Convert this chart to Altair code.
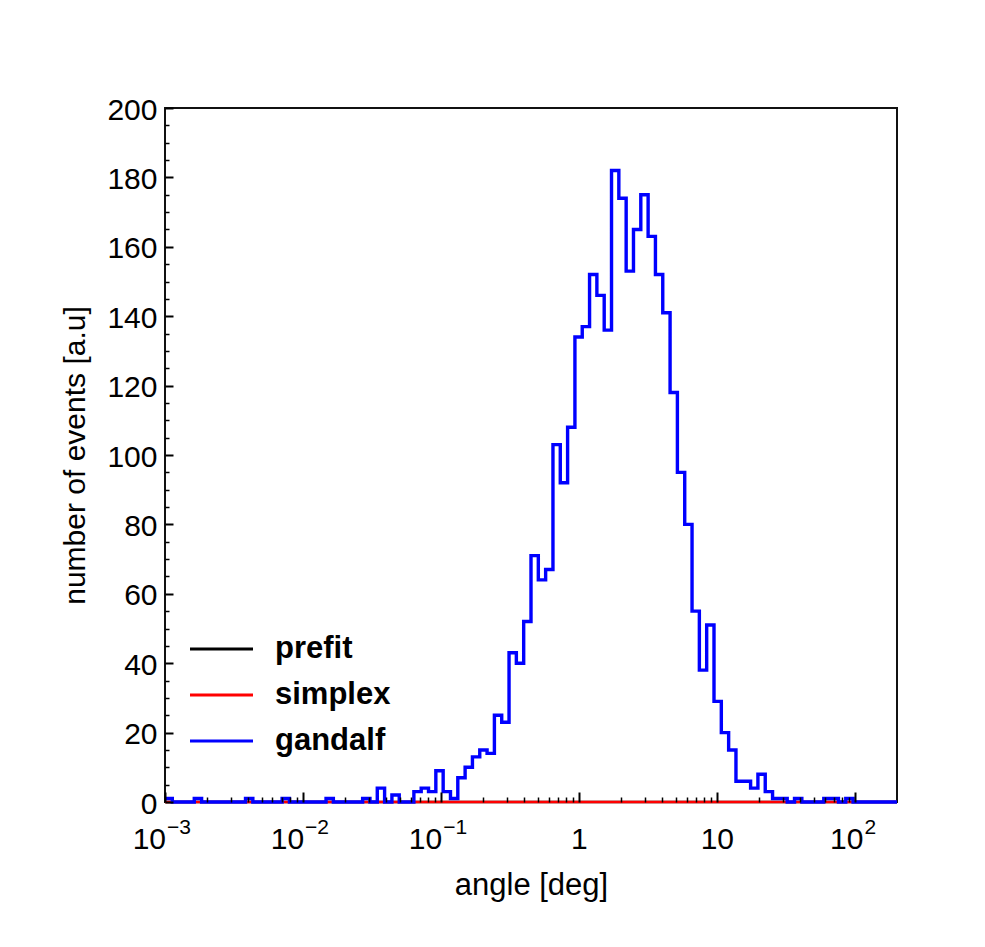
import numpy as np
import pandas as pd
import altair as alt

# ---------------- data ----------------
X_MIN, X_MAX = 0.001, 200.0
N_BINS = 100

gandalf = [1, 0, 0, 0, 1, 0, 0, 0, 0, 0,
           0, 1, 0, 0, 0, 0, 1, 0, 0, 0,
           0, 0, 1, 0, 0, 0, 0, 1, 0, 4,
           0, 2, 0, 0, 3, 4, 3, 9, 3, 1,
           7, 10, 13, 15, 14, 25, 23, 43, 40, 52,
           71, 64, 67, 103, 92, 108, 134, 137, 152, 146,
           136, 182, 174, 153, 165, 175, 163, 152, 141, 118,
           95, 80, 55, 38, 51, 29, 20, 15, 6, 6,
           4, 8, 3, 1, 1, 0, 1, 0, 0, 0,
           1, 1, 0, 1, 0, 0, 0, 0, 0, 0]
prefit = [0] * N_BINS
simplex = [0] * N_BINS

series_names = ["prefit", "simplex", "gandalf"]
series_values = [prefit, simplex, gandalf]
series_colors = ["#000000", "#ff0000", "#0000ff"]

y_major_ticks = list(range(0, 201, 20))
y_minor_ticks = [v for v in range(0, 201, 5) if v % 20 != 0]
x_major_ticks = [0.001, 0.01, 0.1, 1, 10, 100]
x_minor_ticks = [m * 10.0 ** e for e in range(-3, 3) for m in range(2, 10) if m * 10.0 ** e < X_MAX]

x_plain_vals = [1, 10]
x_plain_text = ["1", "10"]
x_neg_vals = [0.001, 0.01, 0.1]
x_neg_exp = ["\u22123", "\u22122", "\u22121"]
x_pos_vals = [100]
x_pos_exp = ["2"]

# ---------------- layout ----------------
W, H = 732, 694
FONT = "Liberation Sans"
FS = 30

edges = np.logspace(np.log10(X_MIN), np.log10(X_MAX), N_BINS + 1)


def steps(vals, name):
    rows = []
    for i, v in enumerate(vals):
        rows.append({"x": edges[i], "y": v, "k": 2 * i, "s": name})
        rows.append({"x": edges[i + 1], "y": v, "k": 2 * i + 1, "s": name})
    return pd.DataFrame(rows)


xs = alt.Scale(type="log", domain=[X_MIN, X_MAX], nice=False)
ys = alt.Scale(domain=[0, 200], nice=False, zero=True)

layers = []

# frame drawn first, so the histograms lie on top of it
layers.append(
    alt.Chart(pd.DataFrame({"f": [0]})).mark_rect(fillOpacity=0, stroke="#111", strokeWidth=2).encode(
        x=alt.value(0), x2=alt.value(W), y=alt.value(0), y2=alt.value(H)
    )
)

line_widths = [2.6, 2.6, 3.4]
for name, vals, col, lw in zip(series_names, series_values, series_colors, line_widths):
    layers.append(
        alt.Chart(steps(vals, name)).mark_line(color=col, strokeWidth=lw, strokeJoin="miter", strokeCap="butt").encode(
            x=alt.X("x:Q", scale=xs, axis=None),
            y=alt.Y("y:Q", scale=ys, axis=None),
            order="k:Q",
        )
    )

base_df = steps(gandalf, "axis")


def axis_layer(xaxis=None, yaxis=None):
    enc = {}
    enc["x"] = alt.X("x:Q", scale=xs, axis=xaxis) if xaxis is not None else alt.X("x:Q", scale=xs, axis=None)
    enc["y"] = alt.Y("y:Q", scale=ys, axis=yaxis) if yaxis is not None else alt.Y("y:Q", scale=ys, axis=None)
    return alt.Chart(base_df).mark_point(opacity=0).encode(**enc)


common_tick = dict(labels=False, domain=False, grid=False, title=None, tickColor="#000", zindex=2)

layers.append(axis_layer(xaxis=alt.Axis(orient="bottom", values=x_major_ticks, tickSize=10, offset=-10, tickWidth=2, **common_tick)))
layers.append(axis_layer(xaxis=alt.Axis(orient="bottom", values=x_minor_ticks, tickSize=5, offset=-5, tickWidth=1.5, **common_tick)))
layers.append(axis_layer(yaxis=alt.Axis(orient="left", values=y_major_ticks, tickSize=8, offset=-8, tickWidth=2, **common_tick)))
layers.append(axis_layer(yaxis=alt.Axis(orient="left", values=y_minor_ticks, tickSize=4, offset=-4, tickWidth=1.5, **common_tick)))

# y labels + title
layers.append(axis_layer(yaxis=alt.Axis(
    orient="left", values=y_major_ticks, ticks=False, domain=False, grid=False,
    labelPadding=8, labelFont=FONT, labelFontSize=FS, labelColor="#000", labelOverlap=False,
    labelBaseline="middle", labelOffset=2,
    title="number of events [a.u]", titleFont=FONT, titleFontSize=FS, titleFontWeight="normal",
    titleColor="#000", titleAngle=270, titleX=-90, titleY=H / 2, titleBaseline="middle", titleAlign="center",
)))
# x title
layers.append(axis_layer(xaxis=alt.Axis(
    orient="bottom", values=x_major_ticks, ticks=False, labels=False, domain=False, grid=False,
    title="angle [deg]", titleFont=FONT, titleFontSize=31, titleFontWeight="normal", titleColor="#000",
    titleX=W / 2, titleY=83, titleBaseline="middle", titleAlign="center",
)))

# x tick labels
layers.append(
    alt.Chart(pd.DataFrame({"v": x_plain_vals, "t": x_plain_text})).mark_text(
        font=FONT, fontSize=FS, align="center", baseline="alphabetic", color="#000"
    ).encode(x=alt.X("v:Q", scale=xs, axis=None), y=alt.value(H + 47), text="t:N")
)
for vals, exps, dbase, dexp in [(x_neg_vals, x_neg_exp, 1, 2), (x_pos_vals, x_pos_exp, 8, 9)]:
    df = pd.DataFrame({"v": vals, "b": ["10"] * len(vals), "e": exps})
    layers.append(
        alt.Chart(df).mark_text(font=FONT, fontSize=FS, align="right", baseline="alphabetic", color="#000", dx=dbase)
        .encode(x=alt.X("v:Q", scale=xs, axis=None), y=alt.value(H + 47), text="b:N")
    )
    layers.append(
        alt.Chart(df).mark_text(font=FONT, fontSize=21, align="left", baseline="alphabetic", color="#000", dx=dexp)
        .encode(x=alt.X("v:Q", scale=xs, axis=None), y=alt.value(H + 32), text="e:N")
    )

# legend (inside the frame, lower left)
for i, (name, col) in enumerate(zip(series_names, series_colors)):
    yy = 541 + 46 * i
    ldf = pd.DataFrame({"label": [name]})
    layers.append(
        alt.Chart(ldf).mark_rule(color=col, strokeWidth=3).encode(
            x=alt.value(25), x2=alt.value(88), y=alt.value(yy)
        )
    )
    layers.append(
        alt.Chart(ldf).mark_text(font=FONT, fontSize=31, fontWeight="bold", align="left", baseline="middle", color="#000")
        .encode(x=alt.value(110), y=alt.value(yy), text="label:N")
    )

chart = (
    alt.layer(*layers)
    .resolve_axis(x="independent", y="independent")
    .properties(
        width=W, height=H,
        padding={"left": 157, "top": 100, "right": 80, "bottom": 137},
        autosize=alt.AutoSizeParams(type="none"),
        background="white",
    )
    .configure_view(strokeWidth=0, stroke="transparent")
)

chart.save("out.html", embed_options={"renderer": "svg", "actions": False})
